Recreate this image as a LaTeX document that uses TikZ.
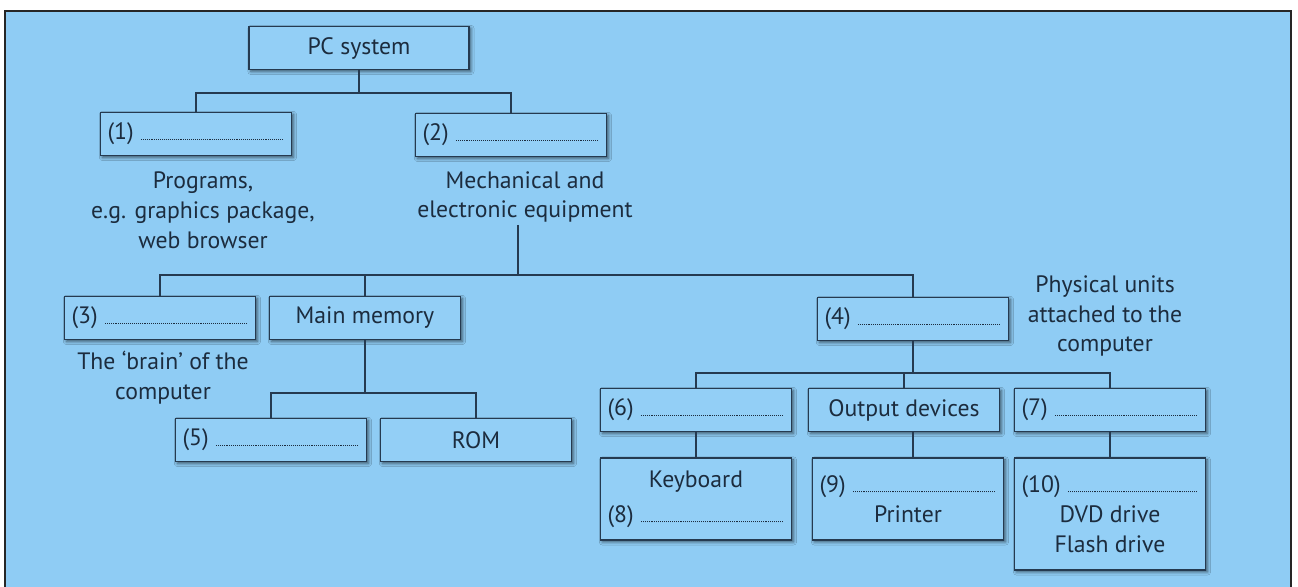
\documentclass[tikz,border=0pt]{standalone}
\usepackage{fontspec}
\setmainfont{PT Sans}
\usepackage{xcolor}
\usepackage{tikz}
\usetikzlibrary{shadows.blur}

\definecolor{bgblue}{HTML}{8FCCF4}
\definecolor{boxblue}{HTML}{93CFF6}
\definecolor{inkline}{HTML}{253A50}
\definecolor{inktext}{HTML}{1C2C3E}

\newcommand{\ansline}[2]{\makebox[#2][l]{(#1)\ \leaders\hbox to 1.1pt{\hss\rule{.55pt}{.55pt}\hss}\hfill}}

\tikzset{
  unit/.style={draw=inkline, line width=0.8pt, fill=boxblue, text=inktext,
    inner xsep=0.14cm, inner ysep=0pt, minimum width=3.82cm, minimum height=0.86cm,
    align=center, blur shadow={shadow xshift=1.1pt, shadow yshift=-1.1pt,
    shadow blur radius=1.8pt, shadow opacity=60}},
  note/.style={text=inktext, align=center, inner sep=1pt},
  link/.style={draw=inkline, line width=0.8pt}
}

\begin{document}
\begin{tikzpicture}[x=0.02cm, y=-0.02cm, font=\fontsize{13.5}{17}\selectfont]
\useasboundingbox (0,0) rectangle (1298,586);
\fill[white] (0,0) rectangle (1298,586);
\draw[line width=1.6pt, draw=black!85, fill=bgblue] (5,11) rectangle (1291,600);

% top level
\node[unit, minimum width=4.4cm] (pc) at (359,48) {PC system};
\node[unit] (b1) at (196,134) {\ansline{1}{3.54cm}};
\node[unit] (b2) at (511,135) {\ansline{2}{3.54cm}};
\node[note] (desc1) at (203,210) {Programs,\\e.g. graphics package,\\web browser};
\node[note] (desc2) at (525,197) {Mechanical and\\electronic equipment};

% hardware
\node[unit] (b3) at (160,318) {\ansline{3}{3.54cm}};
\node[unit] (mm) at (365,318) {Main memory};
\node[unit] (b4) at (913,319) {\ansline{4}{3.54cm}};
\node[note] (desc3) at (163,378) {The `brain' of the\\computer};
\node[note] (desc4) at (1105,316) {Physical units\\attached to the\\computer};

\node[unit] (b5) at (271,440) {\ansline{5}{3.54cm}};
\node[unit] (rom) at (476,440) {ROM};

\node[unit] (b6) at (696,410) {\ansline{6}{3.54cm}};
\node[unit] (out) at (904,410) {Output devices};
\node[unit] (b7) at (1110,410) {\ansline{7}{3.54cm}};

\node[unit, minimum height=1.64cm] (kb) at (696,499) {\makebox[3.54cm]{Keyboard}\\[3pt]\ansline{8}{3.54cm}};
\node[unit, minimum height=1.64cm] (pr) at (908,499) {\ansline{9}{3.54cm}\\Printer};
\node[unit, minimum height=2.24cm] (b10) at (1110,514) {\ansline{10}{3.54cm}\\DVD drive\\Flash drive};

% connectors
\coordinate (j1) at (359,93);
\coordinate (j2) at (518,275);
\coordinate (j3) at (365,393);
\coordinate (j4) at (913,373);
\draw[link] (pc.south) -- (j1);
\draw[link] (b1.north) |- (j1) -| (b2.north);
\draw[link] (desc2.south -| j2) -- (j2);
\draw[link] (b3.north) |- (j2) -| (b4.north);
\draw[link] (mm.north) -- (mm.north |- j2);
\draw[link] (mm.south) -- (j3);
\draw[link] (b5.north) |- (j3) -| (rom.north);
\draw[link] (b4.south) -- (j4);
\draw[link] (b6.north) |- (j4) -| (b7.north);
\draw[link] (out.north) -- (out.north |- j4);
\draw[link] (b6.south) -- (kb.north);
\draw[link] (pr.north -| j4) -- (out.south -| j4);
\draw[link] (b7.south) -- (b10.north);
\end{tikzpicture}
\end{document}
